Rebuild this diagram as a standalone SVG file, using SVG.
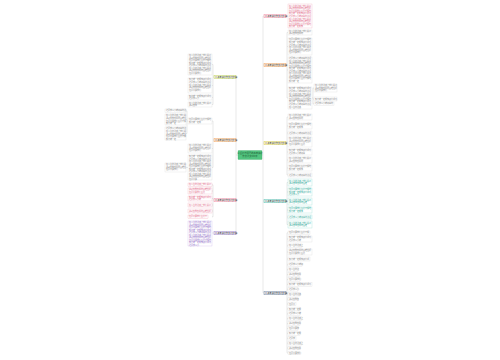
<svg xmlns="http://www.w3.org/2000/svg" width="500" height="360" viewBox="0 0 500 360">
<style>
.b{fill:#fff;stroke:#dcdcdc;stroke-width:0.35}
.t{font-family:"Noto Sans CJK SC","Noto Sans",sans-serif;font-size:2px;fill:#8a8a8a}
.pk .b{stroke:#f2b3c2}.pk .t{fill:#e26a88}
.pu .b{stroke:#cdb8ea}.pu .t{fill:#9370c8}
.tl .b{stroke:#9fded5}.tl .t{fill:#2aa896}
.lb{stroke-width:0.4}
.lt{font-family:"Noto Sans CJK SC","Noto Sans",sans-serif;font-size:2.1px;fill:#333}
.ln{stroke:#c8c8c8;stroke-width:0.4;fill:none}
.ct{font-family:"Noto Sans CJK SC","Noto Sans",sans-serif;font-size:2.3px;fill:#1f5e36}
</style>
<rect width="500" height="360" fill="#fff"/>
<g id="connectors" class="ln">
<path d="M262 155H263M263 16V293M263 16H264M263 65H264M263 143H264M263 201H264M263 293H264"/>
<path d="M238 155H236M236 77V233M236 77H235M236 140H235M236 200H235M236 233H235"/>
<path d="M286 16H288"/>
<path d="M286 65H287M287 32.5V98M287 32.5H288M287 46.5H288M287 70H288M287 98H288M312 98H313M313 88V103.8M313 88H314M313 99H314M313 103.8H314"/>
<path d="M286 143H287M287 117V175M287 117H288M287 126H288M287 133H288M287 142H288M287 152H288M287 160H288M287 168H288M287 175H288"/>
<path d="M286 201H287M287 182.5V224.5M287 182.5H288M287 192H288M287 201.5H288M287 210H288M287 217H288M287 224.5H288"/>
<path d="M286 293H287M287 232.8V352.8M287 232.8H288M287 239H288M287 245.8H288M287 252H288M287 259H288M287 264.8H288M287 269.7H288M287 274.6H288M287 279.5H288M287 284.4H288M287 289.3H288M287 294.2H288M287 299.1H288M287 304H288M287 308.9H288M287 313.8H288M287 318.7H288M287 323.6H288M287 328.5H288M287 333.4H288M287 338.3H288M287 343.2H288M287 348.1H288M287 353H288"/>
<path d="M214 77H213M213 64.5V104.5M213 64.5H212M213 85.5H212M213 97.5H212M213 104.5H212"/>
<path d="M214 140H213M213 121V167.5M213 121H212M213 148.5H212M213 167.5H212M188 121H187M187 110.8V133.5M187 110.8H186M187 119.5H186M187 133.5H186M188 167.5H186"/>
<path d="M214 200H213M213 184.8V216.8M213 184.8H212M213 191H212M213 198.5H212M213 205H212M213 211H212M213 216.8H212"/>
<path d="M214 233H212"/>
</g>
<g id="center"><rect x="238" y="150.5" width="24" height="9" rx="0.6" fill="#52c47f" stroke="#3aa866" stroke-width="0.3"/><text class="ct" x="250" y="154.3" text-anchor="middle">以坚持为话题的高考满分<tspan x="250" dy="3">作文范文800字</tspan></text></g>
<g id="lab-r1"><rect class="lb" x="264" y="14.2" width="22" height="3.6" fill="#fde4ea" stroke="#ef8aa3"/><text class="lt" x="265" y="16.8">≡ 高考满分作文范文1篇</text></g>
<g id="lab-r2"><rect class="lb" x="264" y="63.2" width="22" height="3.6" fill="#fde9d6" stroke="#f0a058"/><text class="lt" x="265" y="65.8">≡ 高考满分作文范文2篇</text></g>
<g id="lab-r3"><rect class="lb" x="264" y="141.2" width="22" height="3.6" fill="#fbf6cf" stroke="#d8cc4a"/><text class="lt" x="265" y="143.8">≡ 高考满分作文范文3篇</text></g>
<g id="lab-r4"><rect class="lb" x="264" y="199.2" width="22" height="3.6" fill="#dcf4f0" stroke="#4cbcac"/><text class="lt" x="265" y="201.8">≡ 高考满分作文范文4篇</text></g>
<g id="lab-r5"><rect class="lb" x="264" y="291.2" width="22" height="3.6" fill="#e3e8f0" stroke="#6c7f99"/><text class="lt" x="265" y="293.8">≡ 高考满分作文范文5篇</text></g>
<g id="lab-l1"><rect class="lb" x="214" y="75.2" width="22" height="3.6" fill="#f3f8dc" stroke="#b9cf4a"/><text class="lt" x="215" y="77.8">≡ 高考满分作文范文6篇</text></g>
<g id="lab-l2"><rect class="lb" x="214" y="138.2" width="22" height="3.6" fill="#fde9d6" stroke="#f0a058"/><text class="lt" x="215" y="140.8">≡ 高考满分作文范文7篇</text></g>
<g id="lab-l3"><rect class="lb" x="214" y="198.2" width="22" height="3.6" fill="#fde4ea" stroke="#ef8aa3"/><text class="lt" x="215" y="200.8">≡ 高考满分作文范文8篇</text></g>
<g id="lab-l4"><rect class="lb" x="214" y="231.2" width="22" height="3.6" fill="#ece5f6" stroke="#9a80c8"/><text class="lt" x="215" y="233.8">≡ 高考满分作文范文9篇</text></g>

<g id="r1a" class="pk"><rect class="b" x="288" y="4" width="24" height="24"/><text class="t" x="289" y="6.5">在人生的道路上我们总会<tspan x="289" dy="2.6">遇到各种各样的困难挫折</tspan><tspan x="289" dy="2.6">但是只要我们坚持不懈地</tspan><tspan x="289" dy="2.6">努力就一定能够取得成功</tspan><tspan x="289" dy="2.6">这是我从小就明白的道理</tspan><tspan x="289" dy="2.6">在人生的道路上我们总会</tspan><tspan x="289" dy="2.6">遇到各种各样的困难挫折</tspan><tspan x="289" dy="2.6">但是只要我们坚持不懈地</tspan><tspan x="289" dy="2.6">努力就一定能够</tspan></text></g>

<g id="r2a"><rect class="b" x="288" y="30" width="24" height="5"/><text class="t" x="289" y="32.1">在人生的道路上我们总会<tspan x="289" dy="2.3">遇到各种各样的</tspan></text></g>
<g id="r2b"><rect class="b" x="288" y="38" width="24" height="17"/><text class="t" x="289" y="40.4">但是只要我们坚持不懈地<tspan x="289" dy="2.6">努力就一定能够取得成功</tspan><tspan x="289" dy="2.6">这是我从小就明白的道理</tspan><tspan x="289" dy="2.6">在人生的道路上我们总会</tspan><tspan x="289" dy="2.6">遇到各种各样的困难挫折</tspan><tspan x="289" dy="2.6">但是只要我们</tspan></text></g>
<g id="r2c"><rect class="b" x="288" y="57" width="24" height="26"/><text class="t" x="289" y="59.4">这是我从小就明白的道理<tspan x="289" dy="2.5">在人生的道路上我们总会</tspan><tspan x="289" dy="2.5">遇到各种各样的困难挫折</tspan><tspan x="289" dy="2.5">但是只要我们坚持不懈地</tspan><tspan x="289" dy="2.5">努力就一定能够取得成功</tspan><tspan x="289" dy="2.5">这是我从小就明白的道理</tspan><tspan x="289" dy="2.5">在人生的道路上我们总会</tspan><tspan x="289" dy="2.5">遇到各种各样的困难挫折</tspan><tspan x="289" dy="2.5">但是只要我们坚持不懈地</tspan><tspan x="289" dy="2.5">努力就一定</tspan></text></g>
<g id="r2d"><rect class="b" x="288" y="87" width="24" height="22"/><text class="t" x="289" y="89.4">努力就一定能够取得成功<tspan x="289" dy="2.6">这是我从小就明白的道理</tspan><tspan x="289" dy="2.6">在人生的道路上我们总会</tspan><tspan x="289" dy="2.6">遇到各种各样的困难挫折</tspan><tspan x="289" dy="2.6">但是只要我们坚持不懈地</tspan><tspan x="289" dy="2.6">努力就一定能够取得成功</tspan><tspan x="289" dy="2.6">这是我从小就明白的道理</tspan><tspan x="289" dy="2.6">在人生的道路</tspan></text></g>
<g id="r2e"><rect class="b" x="314" y="84" width="23" height="8"/><text class="t" x="315" y="86.3">在人生的道路上我们总会<tspan x="315" dy="2.5">遇到各种各样的困难挫折</tspan><tspan x="315" dy="2.5">但是只要我们</tspan></text></g>
<g id="r2f"><rect class="b" x="314" y="97" width="23" height="4"/><text class="t" x="315" y="99.6">努力就一定能够取得成功</text></g>
<g id="r2g"><rect class="b" x="314" y="102" width="20" height="3.6"/><text class="t" x="315" y="104.4">这是我从小就明白的</text></g>

<g id="r3a"><rect class="b" x="288" y="114" width="24" height="6"/><text class="t" x="289" y="116.4">在人生的道路上我们总会<tspan x="289" dy="2.5">遇到各种各样的</tspan></text></g>
<g id="r3b"><rect class="b" x="288" y="123" width="24" height="6"/><text class="t" x="289" y="125.4">但是只要我们坚持不懈地<tspan x="289" dy="2.5">努力就一定能够</tspan></text></g>
<g id="r3c"><rect class="b" x="288" y="131" width="24" height="4"/><text class="t" x="289" y="133.6">这是我从小就明白的道理</text></g>
<g id="r3d"><rect class="b" x="288" y="137" width="24" height="10"/><text class="t" x="289" y="139.4">在人生的道路上我们总会<tspan x="289" dy="2.6">遇到各种各样的困难挫折</tspan><tspan x="289" dy="2.6">但是只要我们坚持</tspan></text></g>
<g id="r3e"><rect class="b" x="288" y="149" width="24" height="6"/><text class="t" x="289" y="151.4">努力就一定能够取得成功<tspan x="289" dy="2.5">这是我从小就明白</tspan></text></g>
<g id="r3f"><rect class="b" x="288" y="157" width="24" height="6"/><text class="t" x="289" y="159.4">在人生的道路上我们总会<tspan x="289" dy="2.5">遇到各种各样的</tspan></text></g>
<g id="r3g"><rect class="b" x="288" y="165" width="24" height="6"/><text class="t" x="289" y="167.4">但是只要我们坚持不懈地<tspan x="289" dy="2.5">努力就一定能够</tspan></text></g>
<g id="r3h"><rect class="b" x="288" y="173" width="24" height="4"/><text class="t" x="289" y="175.6">这是我从小就明白的道理</text></g>

<g id="r4a" class="tl"><rect class="b" x="288" y="179" width="24" height="7"/><text class="t" x="289" y="181.6">在人生的道路上我们总会<tspan x="289" dy="2.6">遇到各种各样的困难</tspan></text></g>
<g id="r4b" class="tl"><rect class="b" x="288" y="188" width="24" height="8"/><text class="t" x="289" y="190.3">但是只要我们坚持不懈地<tspan x="289" dy="2.5">努力就一定能够取得成功</tspan><tspan x="289" dy="2.5">这是我从小</tspan></text></g>
<g id="r4c" class="tl"><rect class="b" x="288" y="198" width="24" height="7"/><text class="t" x="289" y="200.6">在人生的道路上我们总会<tspan x="289" dy="2.6">遇到各种各样的困难</tspan></text></g>
<g id="r4d" class="tl"><rect class="b" x="288" y="207" width="24" height="6"/><text class="t" x="289" y="209.4">但是只要我们坚持不懈地<tspan x="289" dy="2.5">努力就一定能够</tspan></text></g>
<g id="r4e" class="tl"><rect class="b" x="288" y="215" width="24" height="4"/><text class="t" x="289" y="217.6">这是我从小就明白的道理</text></g>
<g id="r4f" class="tl"><rect class="b" x="288" y="221" width="24" height="7"/><text class="t" x="289" y="223.6">在人生的道路上我们总会<tspan x="289" dy="2.6">遇到各种各样的困难</tspan></text></g>

<g id="r5a"><rect class="b" x="288" y="231" width="22" height="3.6"/><text class="t" x="289" y="233.4">但是只要我们坚持不懈</text></g>
<g id="r5b"><rect class="b" x="288" y="236" width="24" height="6"/><text class="t" x="289" y="238.4">努力就一定能够取得成功<tspan x="289" dy="2.5">这是我从小就</tspan></text></g>
<g id="r5c"><rect class="b" x="288" y="244" width="14" height="3.6"/><text class="t" x="289" y="246.4">在人生的道路上</text></g>
<g id="r5d"><rect class="b" x="288" y="249" width="24" height="6"/><text class="t" x="289" y="251.4">遇到各种各样的困难挫折<tspan x="289" dy="2.5">但是只要我们坚持</tspan></text></g>
<g id="r5e"><rect class="b" x="288" y="257" width="22" height="4"/><text class="t" x="289" y="259.5">努力就一定能够取得成</text></g>
<g id="r5f"><rect class="b" x="288" y="263" width="14" height="3.6"/><text class="t" x="289" y="265.4">这是我从小就明</text></g>
<g id="r5g"><rect class="b" x="288" y="267.9" width="10" height="3.6"/><text class="t" x="289" y="270.3">在人生的道</text></g>
<g id="r5h"><rect class="b" x="288" y="272.8" width="12" height="3.6"/><text class="t" x="289" y="275.2">遇到各种各样</text></g>
<g id="r5i"><rect class="b" x="288" y="277.7" width="12" height="3.6"/><text class="t" x="289" y="280.1">但是只要我们</text></g>
<g id="r5j"><rect class="b" x="288" y="282.6" width="24" height="3.6"/><text class="t" x="289" y="285">努力就一定能够取得成功</text></g>
<g id="r5k"><rect class="b" x="288" y="287.5" width="10" height="3.6"/><text class="t" x="289" y="289.9">这是我从小</text></g>
<g id="r5l"><rect class="b" x="288" y="292.4" width="12" height="3.6"/><text class="t" x="289" y="294.8">在人生的道路</text></g>
<g id="r5m"><rect class="b" x="288" y="297.3" width="10" height="3.6"/><text class="t" x="289" y="299.7">遇到各种各</text></g>
<g id="r5n"><rect class="b" x="288" y="302.2" width="8" height="3.6"/><text class="t" x="289" y="304.6">但是只</text></g>
<g id="r5o"><rect class="b" x="288" y="307.1" width="12" height="3.6"/><text class="t" x="289" y="309.5">努力就一定能</text></g>
<g id="r5p"><rect class="b" x="288" y="312" width="12" height="3.6"/><text class="t" x="289" y="314.4">这是我从小就</text></g>
<g id="r5q"><rect class="b" x="288" y="316.9" width="14" height="3.6"/><text class="t" x="289" y="319.3">在人生的道路上</text></g>
<g id="r5r"><rect class="b" x="288" y="321.8" width="12" height="3.6"/><text class="t" x="289" y="324.2">遇到各种各样</text></g>
<g id="r5s"><rect class="b" x="288" y="326.7" width="10" height="3.6"/><text class="t" x="289" y="329.1">但是只要我</text></g>
<g id="r5t"><rect class="b" x="288" y="331.6" width="12" height="3.6"/><text class="t" x="289" y="334">努力就一定能</text></g>
<g id="r5u"><rect class="b" x="288" y="336.5" width="8" height="3.6"/><text class="t" x="289" y="338.9">这是我</text></g>
<g id="r5v"><rect class="b" x="288" y="341.4" width="14" height="3.6"/><text class="t" x="289" y="343.8">在人生的道路上</text></g>
<g id="r5w"><rect class="b" x="288" y="346.3" width="12" height="3.6"/><text class="t" x="289" y="348.7">遇到各种各样</text></g>
<g id="r5x"><rect class="b" x="288" y="351.2" width="12" height="3.6"/><text class="t" x="289" y="353.6">但是只要我们</text></g>

<g id="l1a"><rect class="b" x="188" y="54" width="24" height="21"/><text class="t" x="189" y="56.4">在人生的道路上我们总会<tspan x="189" dy="2.5">遇到各种各样的困难挫折</tspan><tspan x="189" dy="2.5">但是只要我们坚持不懈地</tspan><tspan x="189" dy="2.5">努力就一定能够取得成功</tspan><tspan x="189" dy="2.5">这是我从小就明白的道理</tspan><tspan x="189" dy="2.5">在人生的道路上我们总会</tspan><tspan x="189" dy="2.5">遇到各种各样的困难挫折</tspan><tspan x="189" dy="2.5">但是只要我们</tspan></text></g>
<g id="l1b"><rect class="b" x="188" y="78" width="24" height="15"/><text class="t" x="189" y="80.4">努力就一定能够取得成功<tspan x="189" dy="2.6">这是我从小就明白的道理</tspan><tspan x="189" dy="2.6">在人生的道路上我们总会</tspan><tspan x="189" dy="2.6">遇到各种各样的困难挫折</tspan><tspan x="189" dy="2.6">但是只要我们</tspan></text></g>
<g id="l1c"><rect class="b" x="188" y="95" width="24" height="5"/><text class="t" x="189" y="97.1">努力就一定能够取得成功<tspan x="189" dy="2.3">这是我从小</tspan></text></g>
<g id="l1d"><rect class="b" x="188" y="102" width="24" height="5"/><text class="t" x="189" y="104.1">在人生的道路上我们总会<tspan x="189" dy="2.3">遇到各种</tspan></text></g>

<g id="l2a"><rect class="b" x="188" y="118" width="24" height="6"/><text class="t" x="189" y="120.4">但是只要我们坚持不懈地<tspan x="189" dy="2.5">努力就一定能</tspan></text></g>
<g id="l2a1"><rect class="b" x="165" y="109" width="21" height="3.6"/><text class="t" x="166" y="111.4">这是我从小就明白的道</text></g>
<g id="l2a2"><rect class="b" x="165" y="114" width="21" height="11"/><text class="t" x="166" y="116.4">在人生的道路上我们总<tspan x="166" dy="2.6">遇到各种各样的困难挫</tspan><tspan x="166" dy="2.6">但是只要我们坚持不懈</tspan><tspan x="166" dy="2.6">努力就一定</tspan></text></g>
<g id="l2a3"><rect class="b" x="165" y="127" width="21" height="13"/><text class="t" x="166" y="129.4">这是我从小就明白的道<tspan x="166" dy="2.6">在人生的道路上我们总</tspan><tspan x="166" dy="2.6">遇到各种各样的困难挫</tspan><tspan x="166" dy="2.6">但是只要我们坚持不懈</tspan><tspan x="166" dy="2.6">努力就一定</tspan></text></g>
<g id="l2b"><rect class="b" x="188" y="144" width="24" height="9"/><text class="t" x="189" y="146.4">在人生的道路上我们总会<tspan x="189" dy="2.5">遇到各种各样的困难挫折</tspan><tspan x="189" dy="2.5">但是只要我们</tspan></text></g>
<g id="l2c"><rect class="b" x="188" y="155" width="24" height="25"/><text class="t" x="189" y="157.4">努力就一定能够取得成功<tspan x="189" dy="2.5">这是我从小就明白的道理</tspan><tspan x="189" dy="2.5">在人生的道路上我们总会</tspan><tspan x="189" dy="2.5">遇到各种各样的困难挫折</tspan><tspan x="189" dy="2.5">但是只要我们坚持不懈地</tspan><tspan x="189" dy="2.5">努力就一定能够取得成功</tspan><tspan x="189" dy="2.5">这是我从小就明白的道理</tspan><tspan x="189" dy="2.5">在人生的道路上我们总会</tspan><tspan x="189" dy="2.5">遇到各种各样的困难挫折</tspan><tspan x="189" dy="2.5">但是只要</tspan></text></g>
<g id="l2c1"><rect class="b" x="165" y="163" width="21" height="9"/><text class="t" x="166" y="165.4">在人生的道路上我们总<tspan x="166" dy="2.5">遇到各种各样的困难挫</tspan><tspan x="166" dy="2.5">但是只要我们</tspan></text></g>

<g id="l3a" class="pk"><rect class="b" x="188" y="183" width="24" height="3.6"/><text class="t" x="189" y="185.4">在人生的道路上我们总会</text></g>
<g id="l3b" class="pk"><rect class="b" x="188" y="188" width="24" height="6"/><text class="t" x="189" y="190.4">遇到各种各样的困难挫折<tspan x="189" dy="2.5">但是只要我们坚持</tspan></text></g>
<g id="l3c" class="pk"><rect class="b" x="188" y="196" width="24" height="5"/><text class="t" x="189" y="198.1">努力就一定能够取得成功<tspan x="189" dy="2.3">这是我从小就</tspan></text></g>
<g id="l3d" class="pk"><rect class="b" x="188" y="203" width="24" height="4"/><text class="t" x="189" y="205.5">在人生的道路上我们总会</text></g>
<g id="l3e" class="pk"><rect class="b" x="188" y="209" width="24" height="4"/><text class="t" x="189" y="211.5">遇到各种各样的困难挫折</text></g>
<g id="l3f" class="pk"><rect class="b" x="188" y="215" width="20" height="3.6"/><text class="t" x="189" y="217.4">但是只要我们坚持不</text></g>

<g id="l4a" class="pu"><rect class="b" x="188" y="221" width="24" height="25"/><text class="t" x="189" y="223.4">在人生的道路上我们总会<tspan x="189" dy="2.5">遇到各种各样的困难挫折</tspan><tspan x="189" dy="2.5">但是只要我们坚持不懈地</tspan><tspan x="189" dy="2.5">努力就一定能够取得成功</tspan><tspan x="189" dy="2.5">这是我从小就明白的道理</tspan><tspan x="189" dy="2.5">在人生的道路上我们总会</tspan><tspan x="189" dy="2.5">遇到各种各样的困难挫折</tspan><tspan x="189" dy="2.5">但是只要我们坚持不懈地</tspan><tspan x="189" dy="2.5">努力就一定能够取得成功</tspan><tspan x="189" dy="2.5">这是我从小</tspan></text></g>
</svg>
